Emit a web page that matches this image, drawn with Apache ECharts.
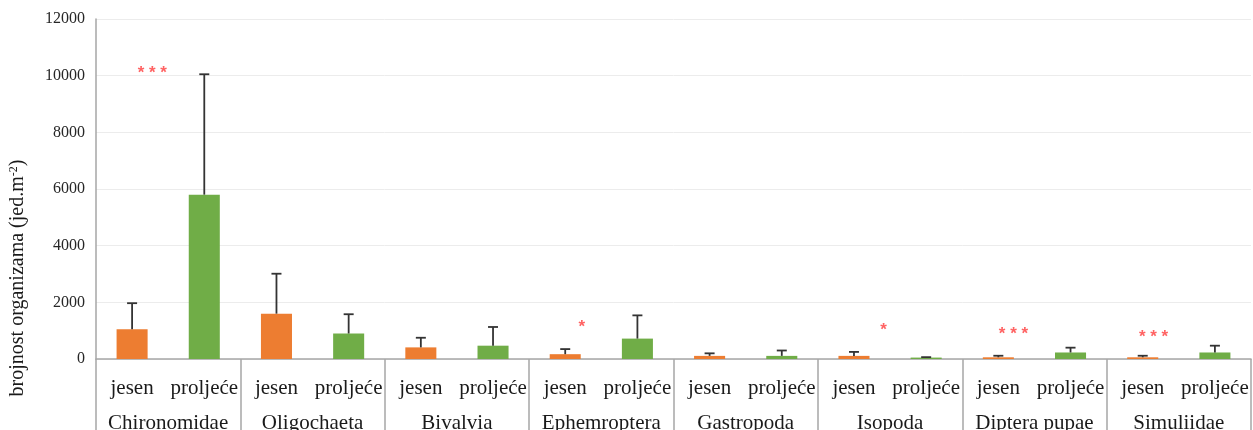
<!DOCTYPE html>
<html>
<head>
<meta charset="utf-8">
<script src="https://cdn.jsdelivr.net/npm/echarts@6/dist/echarts.min.js"></script>
<style>
  html, body { margin: 0; padding: 0; background: #fff; }
  #chart { width: 1253px; height: 430px; }
</style>
</head>
<body>
<div id="chart"></div>
<script>
// taxa groups and seasons
const groups = ['Chironomidae', 'Oligochaeta', 'Bivalvia', 'Ephemroptera', 'Gastropoda', 'Isopoda', 'Diptera pupae', 'Simuliidae'];
const seasons = ['jesen', 'proljeće'];
// mean abundance and SD (upper error bar)
const jesenMean = [1050, 1600, 410, 170, 110, 110, 60, 60];
const jesenErr = [920, 1410, 340, 180, 90, 140, 55, 55];
const proljeceMean = [5800, 900, 470, 720, 110, 50, 230, 230];
const proljeceErr = [4250, 680, 660, 820, 190, 15, 170, 240];
// significance marks: position in category units, value, text
const sigPos = [0.78, 6.73, 10.91, 12.71, 14.65];
const sigVal = [10100, 1130, 1030, 860, 780];
const sigText = ['***', '*', '*', '***', '***'];
const yTicks = [0, 2000, 4000, 6000, 8000, 10000, 12000];

const orange = '#ED7D31';
const green = '#70AD47';
const serif = '"Liberation Serif", "DejaVu Serif", serif';

let cats = [];
let bars = [];
let errs = [];
groups.forEach((g, i) => {
  cats.push(seasons[0], seasons[1]);
  bars.push({ value: jesenMean[i], itemStyle: { color: orange } });
  bars.push({ value: proljeceMean[i], itemStyle: { color: green } });
  errs.push([i * 2, jesenMean[i], jesenErr[i]]);
  errs.push([i * 2 + 1, proljeceMean[i], proljeceErr[i]]);
});

const chart = echarts.init(document.getElementById('chart'));
const option = {
  animation: false,
  grid: { left: 96, right: 2, top: 19, bottom: 71, outerBoundsMode: 'none' },
  xAxis: [{
    type: 'category',
    data: cats,
    axisLine: { lineStyle: { color: '#a6a6a6', width: 1.5 } },
    axisTick: { show: false },
    axisLabel: { interval: 0, margin: 19, fontFamily: serif, fontSize: 21, color: '#1a1a1a' }
  }, {
    type: 'category',
    data: groups,
    position: 'bottom',
    axisLine: { show: false },
    axisTick: { show: true, length: 80, interval: 0, lineStyle: { color: '#a6a6a6', width: 1.5 } },
    axisLabel: { interval: 0, margin: 54, fontFamily: serif, fontSize: 21, color: '#1a1a1a' }
  }, {
    type: 'value',
    min: 0,
    max: 16,
    show: false
  }],
  yAxis: {
    type: 'value',
    min: yTicks[0],
    max: yTicks[yTicks.length - 1],
    interval: 2000,
    axisLine: { show: true, lineStyle: { color: '#a6a6a6', width: 1.5 } },
    axisTick: { show: false },
    splitLine: { lineStyle: { color: '#ececec' } },
    axisLabel: { margin: 11, fontFamily: serif, fontSize: 16, color: '#262626', formatter: v => String(v) }
  },
  graphic: [{
    type: 'text',
    x: 18,
    y: 278,
    rotation: Math.PI / 2,
    style: {
      text: 'brojnost organizama (jed.m{s|-2})',
      font: '20px ' + serif,
      fill: '#1a1a1a',
      align: 'center',
      verticalAlign: 'middle',
      rich: { s: { fontSize: 12, padding: [0, 0, 9, 0], fontFamily: serif } }
    }
  }],
  series: [{
    type: 'bar',
    data: bars,
    barWidth: '43%'
  }, {
    type: 'custom',
    data: errs,
    z: 5,
    renderItem: function (params, api) {
      const i = api.value(0);
      const base = api.coord([i, api.value(1)]);
      const top = api.coord([i, api.value(1) + api.value(2)]);
      const style = { stroke: '#333333', lineWidth: 1.8 };
      return {
        type: 'group',
        children: [
          { type: 'line', shape: { x1: base[0], y1: base[1], x2: top[0], y2: top[1] }, style: style },
          { type: 'line', shape: { x1: top[0] - 5, y1: top[1], x2: top[0] + 5, y2: top[1] }, style: style }
        ]
      };
    }
  }, {
    type: 'scatter',
    xAxisIndex: 2,
    symbolSize: 0,
    data: sigPos.map((p, i) => [p, sigVal[i], sigText[i]]),
    label: {
      show: true,
      position: 'inside',
      formatter: p => p.data[2].split('').join(' '),
      color: '#ff3b3b',
      fontSize: 17,
      fontWeight: 'bold',
      fontFamily: '"Liberation Sans", sans-serif'
    }
  }]
};
chart.setOption(option);
</script>
</body>
</html>
